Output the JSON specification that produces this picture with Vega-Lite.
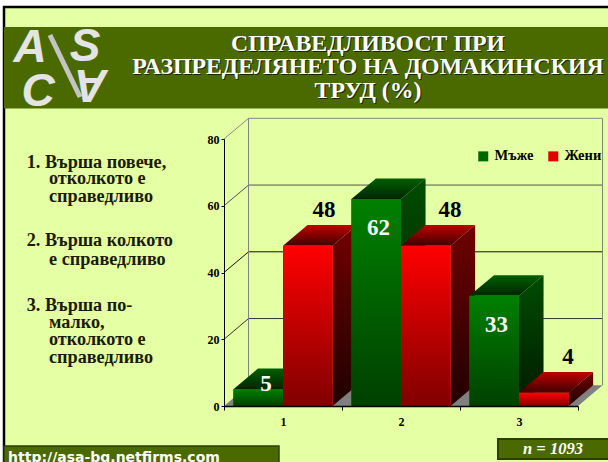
{
"$schema":"https://vega.github.io/schema/vega-lite/v6.json",
"autosize":"none","width":354,"height":267,
"padding":{"left":224,"top":139,"right":30,"bottom":56},
"background":"white",
"config":{"view":{"stroke":null},"text":{"font":"Liberation Serif"}},
"datasets":{"bars":[
{"cat":1,"series":"Мъже","value":5},{"cat":1,"series":"Жени","value":48},
{"cat":2,"series":"Мъже","value":62},{"cat":2,"series":"Жени","value":48},
{"cat":3,"series":"Мъже","value":33},{"cat":3,"series":"Жени","value":4}],
"grid":[{"v":0},{"v":20},{"v":40},{"v":60},{"v":80}],
"one":[{"k":1}]},
"data":{"name":"bars"},
"layer":[
{"data":{"name":"one"},"mark":{"type":"rect","fill":"#e5ffa5","stroke":"black","strokeWidth":2.5},
 "encoding":{"x":{"datum":-1.8644,"type":"quantitative","scale":{"domain":[0,3],"nice":false,"zero":false},"axis":{"zindex":1,"values":[0,1,2,3],"title":null,"grid":false,"labelExpr":"datum.value<3?datum.value+1:''","labelOffset":59,"labelFont":"Liberation Serif","labelFontWeight":"bold","labelFontSize":12,"labelColor":"black","domainColor":"black","tickColor":"black","tickSize":4,"labelPadding":6,"domainWidth":1.5,"labelFlush":false}},"x2":{"datum":3.3136},
 "y":{"datum":119.55,"type":"quantitative","scale":{"domain":[0,80],"nice":false},"axis":{"zindex":1,"values":[0,20,40,60,80],"title":null,"grid":false,"labelFont":"Liberation Serif","labelFontWeight":"bold","labelFontSize":12,"labelColor":"black","domainColor":"black","tickColor":"black","tickSize":3,"labelPadding":2}},"y2":{"datum":-19.18}}},
{"data":{"name":"one"},"mark":{"type":"rect","fill":"#4a6a00"},"encoding":{"x":{"datum":-1.8644,"type":"quantitative"},"x2":{"datum":3.3136},"y":{"datum":113.56,"type":"quantitative"},"y2":{"datum":89.14}}},
{"data":{"name":"one"},"mark":{"type":"rule","stroke":"#c4c4c4","strokeWidth":5},"encoding":{"x":{"datum":-1.475,"type":"quantitative"},"x2":{"datum":-1.22},"y":{"datum":111.16,"type":"quantitative"},"y2":{"datum":92.58}}},
{"data":{"name":"one"},"mark":{"type":"text","text":"A","fontSize":46,"font":"Liberation Sans","fontWeight":"bold","fontStyle":"italic","fill":"#e4e4e4","align":"center","baseline":"middle"},"encoding":{"x":{"datum":-1.644,"type":"quantitative"},"y":{"datum":107.27,"type":"quantitative"}}},
{"data":{"name":"one"},"mark":{"type":"text","text":"S","fontSize":46,"font":"Liberation Sans","fontWeight":"bold","fontStyle":"italic","fill":"#e4e4e4","align":"center","baseline":"middle"},"encoding":{"x":{"datum":-1.178,"type":"quantitative"},"y":{"datum":107.57,"type":"quantitative"}}},
{"data":{"name":"one"},"mark":{"type":"text","text":"C","fontSize":46,"font":"Liberation Sans","fontWeight":"bold","fontStyle":"italic","fill":"#e4e4e4","align":"center","baseline":"middle"},"encoding":{"x":{"datum":-1.576,"type":"quantitative"},"y":{"datum":94.08,"type":"quantitative"}}},
{"data":{"name":"one"},"mark":{"type":"text","text":"A","fontSize":46,"font":"Liberation Sans","fontWeight":"bold","fontStyle":"italic","fill":"#e4e4e4","align":"center","baseline":"middle","angle":180},"encoding":{"x":{"datum":-1.127,"type":"quantitative"},"y":{"datum":96.48,"type":"quantitative"}}},
{"data":{"name":"one"},"mark":{"type":"text","text":["СПРАВЕДЛИВОСТ ПРИ","РАЗПРЕДЕЛЯНЕТО НА ДОМАКИНСКИЯ","ТРУД (%)"],"lineHeight":23.5,"fontSize":23.8,"fontWeight":"bold","fill":"#1a2600","align":"center","baseline":"alphabetic","dx":1,"dy":1},"encoding":{"x":{"datum":1.2203,"type":"quantitative"},"y":{"datum":106.4,"type":"quantitative"}}},
{"data":{"name":"one"},"mark":{"type":"text","text":["СПРАВЕДЛИВОСТ ПРИ","РАЗПРЕДЕЛЯНЕТО НА ДОМАКИНСКИЯ","ТРУД (%)"],"lineHeight":23.5,"fontSize":23.8,"fontWeight":"bold","fill":"white","align":"center","baseline":"alphabetic"},"encoding":{"x":{"datum":1.2203,"type":"quantitative"},"y":{"datum":106.4,"type":"quantitative"}}},
{"data":{"name":"one"},"mark":{"type":"text","text":"1. Върша повече,","fontSize":18.2,"fontWeight":"bold","fill":"#1a1a00","align":"left"},"encoding":{"x":{"datum":-1.672,"type":"quantitative"},"y":{"datum":72.81,"type":"quantitative"}}},
{"data":{"name":"one"},"mark":{"type":"text","text":["отколкото е","справедливо"],"lineHeight":17.5,"fontSize":18.2,"fontWeight":"bold","fill":"#1a1a00","align":"left"},"encoding":{"x":{"datum":-1.483,"type":"quantitative"},"y":{"datum":68,"type":"quantitative"}}},
{"data":{"name":"one"},"mark":{"type":"text","text":"2. Върша колкото","fontSize":18.2,"fontWeight":"bold","fill":"#1a1a00","align":"left"},"encoding":{"x":{"datum":-1.672,"type":"quantitative"},"y":{"datum":49.53,"type":"quantitative"}}},
{"data":{"name":"one"},"mark":{"type":"text","text":"е справедливо","fontSize":18.2,"fontWeight":"bold","fill":"#1a1a00","align":"left"},"encoding":{"x":{"datum":-1.483,"type":"quantitative"},"y":{"datum":43.75,"type":"quantitative"}}},
{"data":{"name":"one"},"mark":{"type":"text","text":"3. Върша по-","fontSize":18.2,"fontWeight":"bold","fill":"#1a1a00","align":"left"},"encoding":{"x":{"datum":-1.672,"type":"quantitative"},"y":{"datum":29.96,"type":"quantitative"}}},
{"data":{"name":"one"},"mark":{"type":"text","text":["малко,","отколкото е","справедливо"],"lineHeight":17.5,"fontSize":18.2,"fontWeight":"bold","fill":"#1a1a00","align":"left"},"encoding":{"x":{"datum":-1.483,"type":"quantitative"},"y":{"datum":24.96,"type":"quantitative"}}},
{"data":{"name":"one"},"mark":{"type":"rect","fill":"#4a6a00","stroke":"#2c3f00","strokeWidth":1.5},"encoding":{"x":{"datum":-1.8644,"type":"quantitative"},"x2":{"datum":0.4661},"y":{"datum":-11.985,"type":"quantitative"},"y2":{"datum":-19.18}}},
{"data":{"name":"one"},"mark":{"type":"text","text":"http://asa-bg.netfirms.com","font":"DejaVu Sans","fontSize":14,"fontWeight":"bold","fill":"white","align":"left"},"encoding":{"x":{"datum":-1.83,"type":"quantitative"},"y":{"datum":-15.73,"type":"quantitative"}}},
{"data":{"name":"one"},"mark":{"type":"rect","fill":"#4a6a00","stroke":"#2c3f00","strokeWidth":2},"encoding":{"x":{"datum":2.322,"type":"quantitative"},"x2":{"datum":3.288},"y":{"datum":-9.888,"type":"quantitative"},"y2":{"datum":-15.88}}},
{"data":{"name":"one"},"mark":{"type":"text","text":"n = 1093","fontSize":16.5,"fontWeight":"bold","fontStyle":"italic","fill":"white","align":"center","baseline":"middle"},"encoding":{"x":{"datum":2.788,"type":"quantitative"},"y":{"datum":-12.88,"type":"quantitative"}}},
{"data":{"values":[{"t":0},{"t":1}]},"transform":[{"calculate":"datum.t*0.208","as":"a"},{"calculate":"3+datum.t*0.208","as":"b"},{"calculate":"datum.t*6.2","as":"c"}],
 "mark":{"type":"area","orient":"horizontal","fill":"#808080"},"encoding":{"x":{"field":"a","type":"quantitative"},"x2":{"field":"b"},"y":{"field":"c","type":"quantitative"}}},
{"data":{"name":"grid"},"transform":[{"filter":"datum.v>0"},{"calculate":"datum.v+6.2","as":"w"}],
 "mark":{"type":"rule","strokeWidth":1},"encoding":{"x":{"datum":0.208,"type":"quantitative"},"x2":{"datum":3.208},"y":{"field":"w","type":"quantitative"},"stroke":{"field":"v","type":"ordinal","legend":null,"scale":{"domain":[20,40,60,80],"range":["#333333","#111111","#555555","#888888"]}}}},
{"data":{"name":"grid"},"transform":[{"filter":"datum.v>0"},{"calculate":"datum.v+6.2","as":"w"}],
 "mark":{"type":"rule","strokeWidth":1},"encoding":{"x":{"datum":0,"type":"quantitative"},"x2":{"datum":0.208},"y":{"field":"v","type":"quantitative"},"y2":{"field":"w"},"stroke":{"field":"v","type":"ordinal","legend":null}}},
{"data":{"name":"one"},"mark":{"type":"rule","stroke":"#808080","strokeWidth":1},"encoding":{"x":{"datum":0.208,"type":"quantitative"},"y":{"datum":6.2,"type":"quantitative"},"y2":{"datum":86.2}}},
{"data":{"name":"one"},"mark":{"type":"rule","stroke":"#808080","strokeWidth":1},"encoding":{"x":{"datum":3.208,"type":"quantitative"},"y":{"datum":6.2,"type":"quantitative"},"y2":{"datum":86.2}}},
{"transform":[{"filter":"datum.series=='Мъже'"},{"calculate":"datum.cat-1+0.08","as":"x0"},{"calculate":"[0,1]","as":"t"},{"flatten":["t"]},{"calculate":"datum.x0+0.42+datum.t*0.208","as":"px"},{"calculate":"datum.t*6.2","as":"lo"},{"calculate":"datum.value+datum.t*6.2","as":"hi"}],
 "mark":{"type":"area","fill":{"gradient":"linear","x1":0,"y1":0,"x2":0,"y2":1,"stops":[{"offset":0,"color":"#004c00"},{"offset":1,"color":"#001a00"}]}},
 "encoding":{"x":{"field":"px","type":"quantitative"},"y":{"field":"hi","type":"quantitative"},"y2":{"field":"lo"},"detail":{"field":"cat"}}},
{"transform":[{"filter":"datum.series=='Жени'"},{"calculate":"datum.cat-0.5","as":"x0"},{"calculate":"[0,1]","as":"t"},{"flatten":["t"]},{"calculate":"datum.x0+0.42+datum.t*0.208","as":"px"},{"calculate":"datum.t*6.2","as":"lo"},{"calculate":"datum.value+datum.t*6.2","as":"hi"}],
 "mark":{"type":"area","fill":{"gradient":"linear","x1":0,"y1":0,"x2":0,"y2":1,"stops":[{"offset":0,"color":"#700000"},{"offset":1,"color":"#200000"}]}},
 "encoding":{"x":{"field":"px","type":"quantitative"},"y":{"field":"hi","type":"quantitative"},"y2":{"field":"lo"},"detail":{"field":"cat"}}},
{"transform":[{"filter":"datum.series=='Мъже'"},{"calculate":"datum.cat-1","as":"x0"},{"calculate":"[0,1]","as":"t"},{"flatten":["t"]},{"calculate":"datum.x0+0.08+datum.t*0.208","as":"a"},{"calculate":"datum.x0+0.5+datum.t*0.208","as":"b"},{"calculate":"datum.value+datum.t*6.2","as":"c"}],
 "mark":{"type":"area","orient":"horizontal","fill":{"gradient":"linear","x1":0,"y1":0,"x2":0,"y2":1,"stops":[{"offset":0,"color":"#006000"},{"offset":1,"color":"#002400"}]}},
 "encoding":{"x":{"field":"a","type":"quantitative"},"x2":{"field":"b"},"y":{"field":"c","type":"quantitative"},"detail":{"field":"cat"}}},
{"transform":[{"filter":"datum.series=='Жени'"},{"calculate":"datum.cat-0.5","as":"x0"},{"calculate":"[0,1]","as":"t"},{"flatten":["t"]},{"calculate":"datum.x0+datum.t*0.208","as":"a"},{"calculate":"datum.x0+0.42+datum.t*0.208","as":"b"},{"calculate":"datum.value+datum.t*6.2","as":"c"}],
 "mark":{"type":"area","orient":"horizontal","fill":{"gradient":"linear","x1":0,"y1":0,"x2":0,"y2":1,"stops":[{"offset":0,"color":"#c00000"},{"offset":1,"color":"#400000"}]}},
 "encoding":{"x":{"field":"a","type":"quantitative"},"x2":{"field":"b"},"y":{"field":"c","type":"quantitative"},"detail":{"field":"cat"}}},
{"transform":[{"calculate":"datum.cat-1+(datum.series=='Мъже'?0.08:0.5)","as":"x0"},{"calculate":"datum.x0+0.42","as":"x1"}],
 "mark":{"type":"rect"},
 "encoding":{"x":{"field":"x0","type":"quantitative"},"x2":{"field":"x1"},"y":{"field":"value","type":"quantitative"},"y2":{"datum":0},
  "fill":{"field":"series","type":"nominal","sort":null,"scale":{"domain":["Мъже","Жени"],"range":["#006600","#e60000"]},
  "legend":{"orient":"none","legendX":252,"legendY":10,"direction":"horizontal","title":null,"symbolType":"square","symbolSize":100,"symbolStrokeWidth":0,"labelFont":"Liberation Serif","labelFontWeight":"bold","labelFontSize":14.5,"labelColor":"black","columnPadding":12,"labelOffset":4}}}},
{"transform":[{"filter":"datum.series=='Мъже'"},{"calculate":"datum.cat-1+0.08","as":"x0"},{"calculate":"datum.x0+0.42","as":"x1"}],
 "mark":{"type":"rect","fill":{"gradient":"linear","x1":0,"y1":0,"x2":0,"y2":1,"stops":[{"offset":0,"color":"#008000"},{"offset":1,"color":"#004000"}]}},
 "encoding":{"x":{"field":"x0","type":"quantitative"},"x2":{"field":"x1"},"y":{"field":"value","type":"quantitative"},"y2":{"datum":0}}},
{"transform":[{"filter":"datum.series=='Жени'"},{"calculate":"datum.cat-0.5","as":"x0"},{"calculate":"datum.x0+0.42","as":"x1"}],
 "mark":{"type":"rect","fill":{"gradient":"linear","x1":0,"y1":0,"x2":0,"y2":1,"stops":[{"offset":0,"color":"#ff0000"},{"offset":1,"color":"#800000"}]}},
 "encoding":{"x":{"field":"x0","type":"quantitative"},"x2":{"field":"x1"},"y":{"field":"value","type":"quantitative"},"y2":{"datum":0}}},
{"transform":[{"calculate":"datum.cat-1+(datum.series=='Мъже'?0.08+(datum.value<10?0.276:0.23):0.5+(datum.cat==1?0.347:0.415))","as":"lx"},{"calculate":"datum.series=='Жени'?datum.value+10.8:(datum.value<10?datum.value+1.6:datum.value-8.8)","as":"ly"}],
 "mark":{"type":"text","fontSize":23,"fontWeight":"bold","align":"center","baseline":"middle"},
 "encoding":{"x":{"field":"lx","type":"quantitative"},"y":{"field":"ly","type":"quantitative"},"text":{"field":"value","type":"quantitative"},
 "fill":{"condition":{"test":"datum.series=='Мъже'","value":"white"},"value":"black"}}}
]}
